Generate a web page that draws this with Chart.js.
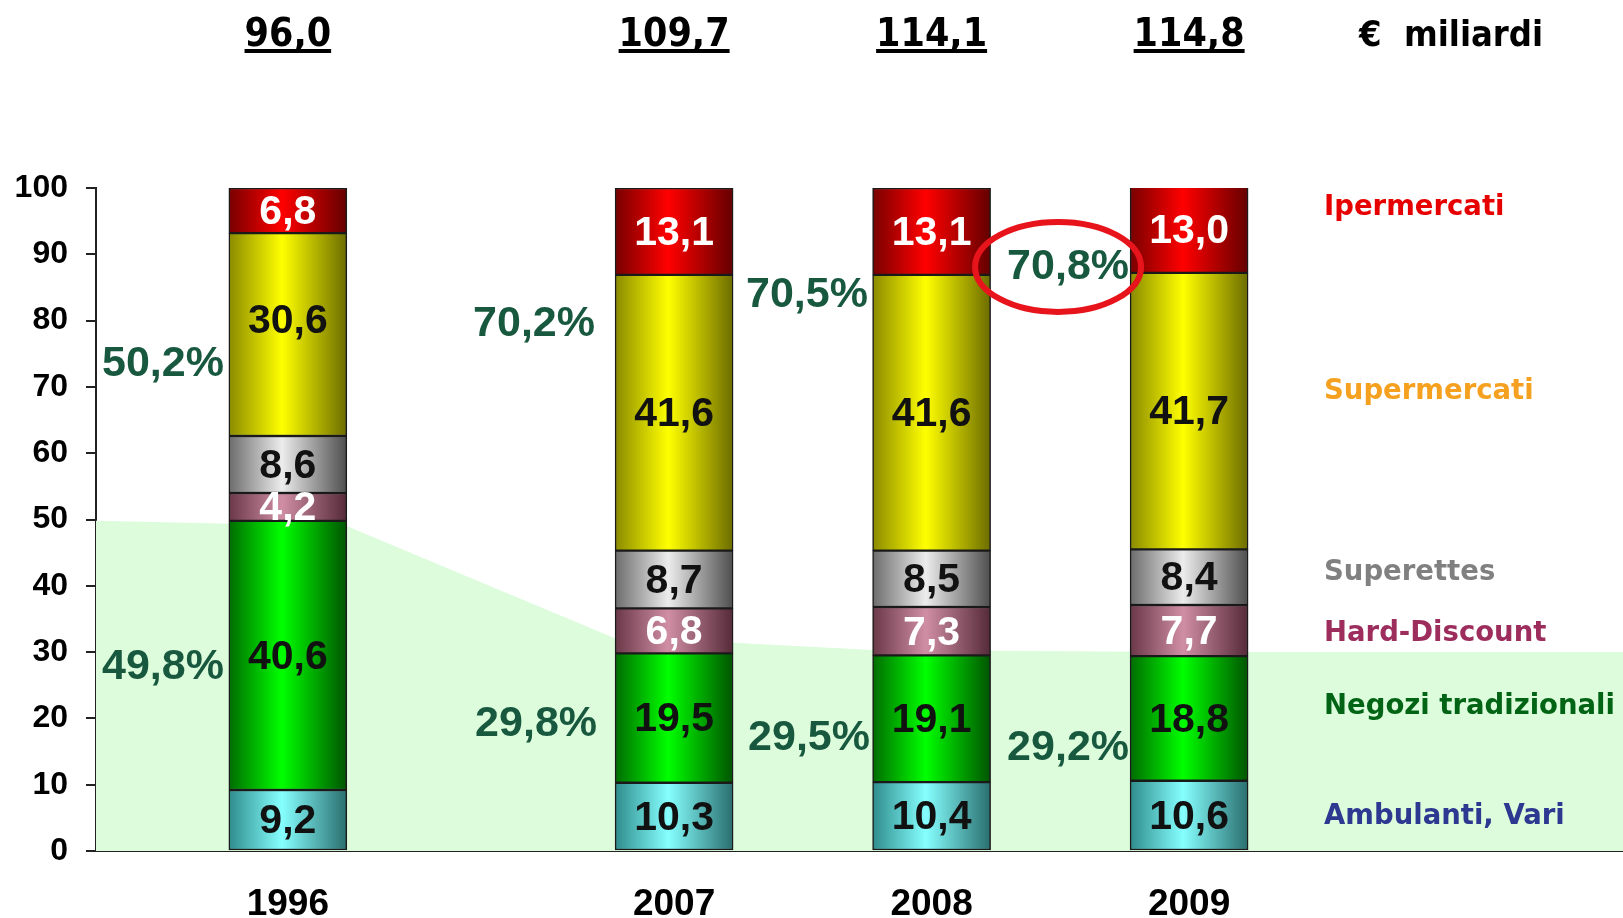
<!DOCTYPE html>
<html>
<head>
<meta charset="utf-8">
<script src="https://cdn.jsdelivr.net/npm/chart.js@4/dist/chart.umd.min.js"></script>
<style>
  html, body { margin: 0; padding: 0; background: #fff; }
  #wrap { width: 1623px; height: 918px; position: relative; }
</style>
</head>
<body>
<div id="wrap"><canvas id="chart"></canvas></div>
<script>
// data
const years = ['1996', '2007', '2008', '2009'];
const yearSlot = [0, 1.5, 2.5, 3.5]; // 1996 stands apart from the other three

const ambulanti    = [9.2, 10.3, 10.4, 10.6];
const negozi       = [40.6, 19.5, 19.1, 18.8];
const hardDiscount = [4.2, 6.8, 7.3, 7.7];
const superettes   = [8.6, 8.7, 8.5, 8.4];
const supermercati = [30.6, 41.6, 41.6, 41.7];
const ipermercati  = [6.8, 13.1, 13.1, 13.0];

const totals      = [96.0, 109.7, 114.1, 114.8]; // € miliardi
const shareModern = [50.2, 70.2, 70.5, 70.8];
const shareTrad   = [49.8, 29.8, 29.5, 29.2];

// light green background band (traditional share)
const bandX = [-0.745, 0.23, 1.27, 1.73, 2.27, 3.5, 5.185];
const bandY = [49.8, 49.0, 32.1, 31.4, 30.3, 30.0, 30.0];

const yTicks = [0, 10, 20, 30, 40, 50, 60, 70, 80, 90, 100];

// series, bottom to top
const series = [
  { name: 'Ambulanti, Vari',     values: ambulanti,    grad: ['#2f8c8c', '#86ffff', '#2a6e6e'], text: '#111', legend: '#2b3990', legendY: 5.1 },
  { name: 'Negozi tradizionali', values: negozi,       grad: ['#006c00', '#00ff00', '#005400'], text: '#111', legend: '#006414', legendY: 21.7 },
  { name: 'Hard-Discount',       values: hardDiscount, grad: ['#6a3848', '#d08ea4', '#552a38'], text: '#fff', legend: '#9c2d5c', legendY: 32.7 },
  { name: 'Superettes',          values: superettes,   grad: ['#6c6c6c', '#ececec', '#4e4e4e'], text: '#111', legend: '#808080', legendY: 41.9 },
  { name: 'Supermercati',        values: supermercati, grad: ['#8a8a00', '#ffff00', '#6c6c00'], text: '#111', legend: '#f5a01e', legendY: 69.2 },
  { name: 'Ipermercati',         values: ipermercati,  grad: ['#780000', '#ff0000', '#640000'], text: '#fff', legend: '#e60000', legendY: 97.0 }
];

// label placement (axis units)
const pctModernPos = [[-0.485, 73.5], [0.956, 79.5], [2.016, 83.9], [3.03, 88.1]];
const pctTradPos   = [[-0.485, 27.8], [0.964, 19.1], [2.024, 17.0], [3.03, 15.5]];
const legendX = 4.024;
const BAR_W = 118;
const PCT_COLOR = '#17583f';

const fmt = v => v.toFixed(1).replace('.', ',');

function barGradient(c, colors) {
  const chart = c.chart;
  if (!chart.chartArea || c.type !== 'data') return colors[1];
  const cx = chart.scales.x.getPixelForValue(c.raw.x);
  const g = chart.ctx.createLinearGradient(cx - BAR_W / 2, 0, cx + BAR_W / 2, 0);
  g.addColorStop(0, colors[0]);
  g.addColorStop(0.45, colors[1]);
  g.addColorStop(1, colors[2]);
  return g;
}

const datasets = series.map(s => ({
  type: 'bar',
  label: s.name,
  data: s.values.map((v, i) => ({ x: yearSlot[i], y: v })),
  backgroundColor: c => barGradient(c, s.grad),
  borderColor: '#1a1a1a',
  borderWidth: 1.5,
  borderSkipped: false,
  barThickness: BAR_W,
  stack: 'shares',
  order: 1
}));

datasets.push({
  type: 'line',
  label: 'band',
  data: bandX.map((x, i) => ({ x: x, y: bandY[i] })),
  backgroundColor: '#dcfcdc',
  borderWidth: 0,
  pointRadius: 0,
  fill: 'origin',
  stack: 'band',
  order: 10
});

const textPlugin = {
  id: 'texts',
  afterDraw(chart) {
    const ctx = chart.ctx;
    const xs = chart.scales.x, ys = chart.scales.y;
    ctx.save();

    // values inside segments
    ctx.textAlign = 'center';
    ctx.textBaseline = 'middle';
    ctx.font = 'bold 41px "Liberation Sans", Arial, sans-serif';
    series.forEach((s, si) => {
      const meta = chart.getDatasetMeta(si);
      meta.data.forEach((bar, i) => {
        // the tall 1996 yellow label sits a bit above centre in the original
        const lift = (s.name === 'Supermercati' && i === 0) ? -15 : 0;
        ctx.fillStyle = s.text;
        ctx.fillText(fmt(s.values[i]), bar.x, (bar.y + bar.base) / 2 + 2 + lift);
      });
    });

    // shares
    ctx.fillStyle = PCT_COLOR;
    ctx.font = 'bold 43px "Liberation Sans", Arial, sans-serif';
    shareModern.forEach((v, i) => {
      const p = pctModernPos[i];
      ctx.fillText(fmt(v) + '%', xs.getPixelForValue(p[0]), ys.getPixelForValue(p[1]));
    });
    shareTrad.forEach((v, i) => {
      const p = pctTradPos[i];
      ctx.fillText(fmt(v) + '%', xs.getPixelForValue(p[0]), ys.getPixelForValue(p[1]));
    });

    // red ring round the last share
    const last = pctModernPos[pctModernPos.length - 1];
    ctx.strokeStyle = '#e8141c';
    ctx.lineWidth = 6;
    ctx.beginPath();
    ctx.ellipse(xs.getPixelForValue(last[0]) - 10, ys.getPixelForValue(last[1]), 83, 45, 0, 0, Math.PI * 2);
    ctx.stroke();

    // totals on top, underlined
    ctx.fillStyle = '#000';
    ctx.font = 'bold 39px "DejaVu Sans Condensed", "DejaVu Sans", sans-serif';
    ctx.textBaseline = 'alphabetic';
    totals.forEach((t, i) => {
      const x = xs.getPixelForValue(yearSlot[i]);
      const str = fmt(t);
      ctx.fillText(str, x, 46);
      const w = ctx.measureText(str).width;
      ctx.fillRect(x - w / 2, 49, w, 4);
    });
    ctx.font = 'bold 36px "DejaVu Sans Condensed", "DejaVu Sans", sans-serif';
    ctx.fillText('€  miliardi', 1451, 46);

    // series names on the right
    ctx.textAlign = 'left';
    ctx.textBaseline = 'middle';
    ctx.font = 'bold 27.5px "DejaVu Sans", Verdana, sans-serif';
    series.forEach(s => {
      ctx.fillStyle = s.legend;
      ctx.fillText(s.name, xs.getPixelForValue(legendX), ys.getPixelForValue(s.legendY));
    });
    ctx.restore();
  }
};

new Chart(document.getElementById('chart'), {
  data: { datasets: datasets },
  options: {
    responsive: true,
    maintainAspectRatio: false,
    animation: false,
    layout: { padding: { top: 188, right: 0, bottom: 0, left: 0 } },
    plugins: { legend: { display: false }, tooltip: { enabled: false } },
    scales: {
      x: {
        type: 'linear',
        min: -0.745,
        max: 5.185,
        offset: false,
        stacked: true,
        z: 1,
        afterFit: s => { s.height = 67; },
        afterBuildTicks: s => { s.ticks = yearSlot.map(v => ({ value: v })); },
        ticks: {
          callback: (v) => years[yearSlot.indexOf(v)],
          color: '#000',
          padding: 32,
          maxRotation: 0,
          autoSkip: false,
          font: { family: '"Liberation Sans", Arial, sans-serif', size: 37, weight: 'bold' }
        },
        grid: { display: false, drawTicks: false },
        border: { display: true, color: '#222', width: 2 }
      },
      y: {
        stacked: true,
        min: 0,
        max: 100,
        z: 1,
        afterFit: s => { s.width = 96; },
        afterBuildTicks: s => { s.ticks = yTicks.map(v => ({ value: v })); },
        ticks: {
          color: '#000',
          padding: 18,
          font: { family: '"Liberation Sans", Arial, sans-serif', size: 32, weight: 'bold' }
        },
        grid: { drawOnChartArea: false, drawTicks: true, tickLength: 10, color: '#222', lineWidth: 2 },
        border: { display: true, color: '#222', width: 2 }
      }
    }
  },
  plugins: [textPlugin]
});
</script>
</body>
</html>
